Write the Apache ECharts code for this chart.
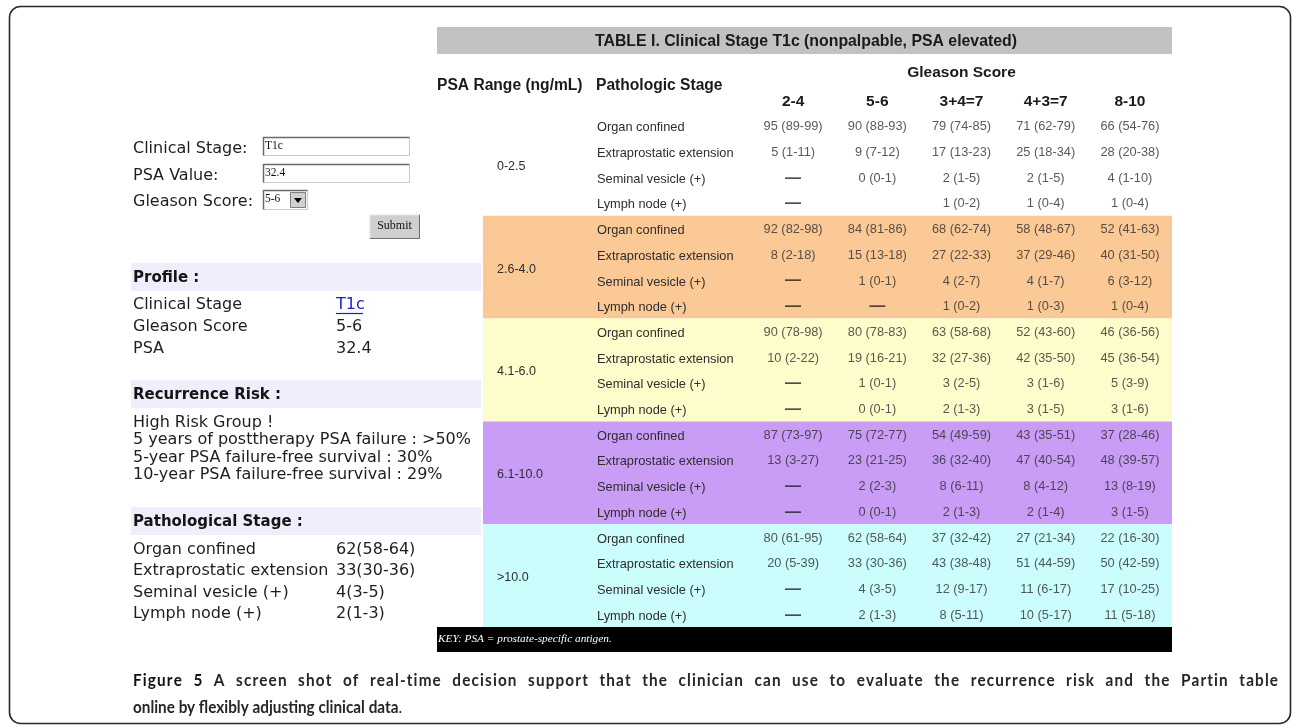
<!DOCTYPE html>
<html><head><meta charset="utf-8">
<script src="https://cdn.jsdelivr.net/npm/echarts@6/dist/echarts.min.js"></script>
<style>html,body{margin:0;padding:0;background:#fff}#c{width:1295px;height:727px}</style>
</head><body><div id="c"></div>
<script>
// ---------------- data ----------------
const tableTitle = 'TABLE I. Clinical Stage T1c (nonpalpable, PSA elevated)';
const gleasonScores = ['2-4', '5-6', '3+4=7', '4+3=7', '8-10'];
const pathologicStages = ['Organ confined', 'Extraprostatic extension', 'Seminal vesicle (+)', 'Lymph node (+)'];
const psaRanges = ['0-2.5', '2.6-4.0', '4.1-6.0', '6.1-10.0', '>10.0'];
// rows = pathologic stage, columns = Gleason score
const psa0to25 = [
  ['95 (89-99)', '90 (88-93)', '79 (74-85)', '71 (62-79)', '66 (54-76)'],
  ['5 (1-11)', '9 (7-12)', '17 (13-23)', '25 (18-34)', '28 (20-38)'],
  ['—', '0 (0-1)', '2 (1-5)', '2 (1-5)', '4 (1-10)'],
  ['—', '', '1 (0-2)', '1 (0-4)', '1 (0-4)']
];
const psa26to40 = [
  ['92 (82-98)', '84 (81-86)', '68 (62-74)', '58 (48-67)', '52 (41-63)'],
  ['8 (2-18)', '15 (13-18)', '27 (22-33)', '37 (29-46)', '40 (31-50)'],
  ['—', '1 (0-1)', '4 (2-7)', '4 (1-7)', '6 (3-12)'],
  ['—', '—', '1 (0-2)', '1 (0-3)', '1 (0-4)']
];
const psa41to60 = [
  ['90 (78-98)', '80 (78-83)', '63 (58-68)', '52 (43-60)', '46 (36-56)'],
  ['10 (2-22)', '19 (16-21)', '32 (27-36)', '42 (35-50)', '45 (36-54)'],
  ['—', '1 (0-1)', '3 (2-5)', '3 (1-6)', '5 (3-9)'],
  ['—', '0 (0-1)', '2 (1-3)', '3 (1-5)', '3 (1-6)']
];
const psa61to100 = [
  ['87 (73-97)', '75 (72-77)', '54 (49-59)', '43 (35-51)', '37 (28-46)'],
  ['13 (3-27)', '23 (21-25)', '36 (32-40)', '47 (40-54)', '48 (39-57)'],
  ['—', '2 (2-3)', '8 (6-11)', '8 (4-12)', '13 (8-19)'],
  ['—', '0 (0-1)', '2 (1-3)', '2 (1-4)', '3 (1-5)']
];
const psaOver10 = [
  ['80 (61-95)', '62 (58-64)', '37 (32-42)', '27 (21-34)', '22 (16-30)'],
  ['20 (5-39)', '33 (30-36)', '43 (38-48)', '51 (44-59)', '50 (42-59)'],
  ['—', '4 (3-5)', '12 (9-17)', '11 (6-17)', '17 (10-25)'],
  ['—', '2 (1-3)', '8 (5-11)', '10 (5-17)', '11 (5-18)']
];
const tableKey = 'KEY: PSA = prostate-specific antigen.';

const formLabels = ['Clinical Stage:', 'PSA Value:', 'Gleason Score:'];
const formValues = ['T1c', '32.4', '5-6'];
const profileLabels = ['Clinical Stage', 'Gleason Score', 'PSA'];
const profileValues = ['T1c', '5-6', '32.4'];
const riskLines = ['High Risk Group !', '5 years of posttherapy PSA failure : >50%',
  '5-year PSA failure-free survival : 30%', '10-year PSA failure-free survival : 29%'];
const pathStageValues = ['62(58-64)', '33(30-36)', '4(3-5)', '2(1-3)'];
const captionTitle = 'Figure 5';
const captionLine1 = 'A screen shot of real-time decision support that the clinician can use to evaluate the recurrence risk and the Partin table';
const captionLine2 = 'online by flexibly adjusting clinical data';

// ---------------- build ----------------
const blocks = [psa0to25, psa26to40, psa41to60, psa61to100, psaOver10];
const blockColors = ['#ffffff', '#fbc996', '#fdfdcb', '#c99cf6', '#cbfdfd'];
const rowLabels = [];
psaRanges.forEach(() => pathologicStages.forEach(s => rowLabels.push(s)));
const cells = [];
blocks.forEach((b, bi) => b.forEach((row, si) => row.forEach((t, ci) => {
  if (t) cells.push([ci, bi * 4 + si, t]);
})));

const SANS = "'Liberation Sans', Arial, sans-serif";
const VERD = "'DejaVu Sans', Verdana, sans-serif";
const SERIF = "'Liberation Serif', 'Times New Roman', serif";
const CAP = "Lato, 'Open Sans', sans-serif";

function T(text, x, y, o) {
  o = o || {};
  const el = {
    type: 'text', silent: true, z: o.z || 10,
    style: {
      text: text, x: x, y: y,
      font: o.font || ('16px ' + VERD),
      fill: o.fill || '#1e1e1e',
      align: o.align || 'left', textAlign: o.align || 'left',
      verticalAlign: 'middle', textVerticalAlign: 'middle',
      rich: o.rich
    }
  };
  if (o.sx) { el.scaleX = o.sx; el.originX = x; el.originY = y; }
  return el;
}
function R(x, y, w, h, fill, stroke, lw, z) {
  return { type: 'rect', silent: true, z: z || 5, shape: { x: x, y: y, width: w, height: h },
    style: { fill: fill || 'none', stroke: stroke || null, lineWidth: lw || 1 } };
}
function L(pts, stroke, lw, z) {
  return { type: 'polyline', silent: true, z: z || 6, shape: { points: pts },
    style: { fill: null, stroke: stroke, lineWidth: lw || 1 } };
}
const mctx = document.createElement('canvas').getContext('2d');
function measure(text, font) { mctx.font = font; return mctx.measureText(text).width; }

const g = [];
// outer frame
g.push({ type: 'rect', silent: true, z: 1, shape: { x: 9.5, y: 6.5, width: 1281, height: 717, r: 11 },
  style: { fill: 'none', stroke: '#2a2a2a', lineWidth: 1.6 } });

// table title bar
g.push(R(437, 27, 735, 27, '#c2c2c2'));
{
  const f = 'bold 17px ' + SANS;
  const w = measure(tableTitle, f);
  g.push(T(tableTitle, 806, 41, { font: f, align: 'center', fill: '#1a1a1a', sx: 422 / w }));
}
// headers
g.push(T('PSA Range (ng/mL)', 437, 85.5, { font: 'bold 15.6px ' + SANS, fill: '#1a1a1a' }));
g.push(T('Pathologic Stage', 596, 85.5, { font: 'bold 15.6px ' + SANS, fill: '#1a1a1a' }));
// key bar
g.push(R(437, 627, 735, 25, '#000000'));
g.push(T(tableKey, 438, 639.5, { font: 'italic 11.3px ' + SERIF, fill: '#ffffff' }));

// left form
const formY = [147, 174, 200];
formLabels.forEach((l, i) => g.push(T(l, 133, formY[i] + 1.5, { font: '16px ' + VERD })));
[0, 1].forEach(i => {
  const y = formY[i] - 10;
  g.push(R(263.5, y + 0.5, 146, 18, '#ffffff', '#c8c8c8', 1));
  g.push(L([[263.5, y + 18.5], [263.5, y + 0.5], [409.5, y + 0.5]], '#6a6a6a', 1.5));
  g.push(T(formValues[i], 265, y + 9, { font: '11.5px ' + SERIF, fill: '#111' }));
});
{
  const y = formY[2] - 10;
  g.push(R(263.5, y + 0.5, 44, 19, '#ffffff', '#c8c8c8', 1));
  g.push(L([[263.5, y + 19.5], [263.5, y + 0.5], [307.5, y + 0.5]], '#6a6a6a', 1.5));
  g.push(T(formValues[2], 265, y + 9, { font: '11.5px ' + SERIF, fill: '#111' }));
  g.push(R(290.5, y + 2.5, 15, 15, '#d0d0d0', '#808080', 1));
  g.push({ type: 'polygon', silent: true, z: 7, shape: { points: [[294, y + 8], [302, y + 8], [298, y + 13]] }, style: { fill: '#000' } });
}
g.push(R(369.5, 214.5, 50, 24, '#cfcfcf', '#6e6e6e', 1));
g.push(L([[369.5, 238.5], [369.5, 214.5], [419.5, 214.5]], '#f4f4f4', 1.5));
g.push(T('Submit', 394.5, 225.5, { font: '12px ' + SERIF, align: 'center', fill: '#111' }));

// section bars
function section(title, y0) {
  g.push(R(131, y0, 350, 28, '#eeeefc'));
  g.push(T(title, 133, y0 + 15.5, { font: 'bold 15px ' + VERD, fill: '#151515' }));
}
section('Profile :', 263);
const profY = [303, 325, 347];
profileLabels.forEach((l, i) => {
  g.push(T(l, 133, profY[i] + 1.5, { font: '16px ' + VERD }));
  g.push(T(profileValues[i], 336, profY[i] + 1.5, { font: '16px ' + VERD, fill: i === 0 ? '#1a1ad0' : '#1e1e1e' }));
});
g.push(L([[336, 313.5], [363, 313.5]], '#1a1ad0', 1.2));

section('Recurrence Risk :', 380);
const riskY = [421, 438.5, 456, 473.5];
riskLines.forEach((l, i) => g.push(T(l, 133, riskY[i] + 1.5, { font: '16px ' + VERD })));

section('Pathological Stage :', 507);
const psY = [548, 569.5, 591, 612.5];
pathologicStages.forEach((l, i) => {
  g.push(T(l, 133, psY[i] + 1.5, { font: '16px ' + VERD }));
  g.push(T(pathStageValues[i], 336, psY[i] + 1.5, { font: '16px ' + VERD }));
});

// caption: line 1 justified between 133 and 1278 (spacing spread over characters and words)
{
  const SX = 0.9;
  const fB = 'bold 17px ' + CAP;
  const full = captionTitle + ' ' + captionLine1;
  const chars = Array.from(full);
  const titleLen = captionTitle.length;
  const cw = chars.map(c => measure(c, fB) * SX);
  const total = cw.reduce((a, b) => a + b, 0);
  const nSpaces = chars.filter(c => c === ' ').length;
  const nGaps = chars.length - 1;
  const extra = 1278 - 133 - total;
  const perGap = extra * 0.55 / nGaps;
  const perSpace = extra * 0.45 / nSpaces;
  let x = 133;
  chars.forEach((c, i) => {
    if (c !== ' ') g.push(T(c, x, 681, { font: fB, fill: i < titleLen ? '#111' : '#262626', sx: SX }));
    x += cw[i] + perGap + (c === ' ' ? perSpace : 0);
  });
  g.push(T(captionLine2 + '{r|.}', 133, 708, {
    font: fB, fill: '#262626', sx: SX,
    rich: { r: { font: '17px ' + CAP, fill: '#262626' } }
  }));
}

const hiddenAxis = { axisLine: { show: false }, axisTick: { show: false }, splitLine: { show: false } };
const chart = echarts.init(document.getElementById('c'), null, { renderer: 'canvas' });
chart.setOption({
  animation: false,
  backgroundColor: '#ffffff',
  grid: [
    { left: 483, top: 113, width: 689, height: 514 },   // block backgrounds
    { left: 751, top: 113, width: 421, height: 514 },   // cell values
    { left: 751, top: 115, width: 421, height: 514 }    // row labels
  ],
  xAxis: [
    { gridIndex: 0, type: 'value', min: 0, max: 1, show: false },
    Object.assign({
      gridIndex: 1, type: 'category', data: gleasonScores, position: 'top',
      axisLabel: { margin: 3, fontFamily: SANS, fontSize: 15.5, fontWeight: 'bold', color: '#1a1a1a' },
      name: 'Gleason Score', nameLocation: 'middle', nameGap: 32,
      nameTextStyle: { fontFamily: SANS, fontSize: 15.5, fontWeight: 'bold', color: '#1a1a1a' }
    }, hiddenAxis),
    { gridIndex: 2, type: 'category', data: gleasonScores, show: false }
  ],
  yAxis: [
    { gridIndex: 0, type: 'category', data: psaRanges, inverse: true, show: false },
    { gridIndex: 1, type: 'category', data: rowLabels, inverse: true, show: false },
    Object.assign({
      gridIndex: 2, type: 'category', data: rowLabels, inverse: true, position: 'left',
      axisLabel: { interval: 0, align: 'left', margin: 154, fontFamily: SANS, fontSize: 12.8, color: '#2e2e2e' }
    }, hiddenAxis),
    Object.assign({
      gridIndex: 2, type: 'category', data: psaRanges, inverse: true, position: 'left', offset: 0,
      axisLabel: { interval: 0, align: 'left', margin: 254, fontFamily: SANS, fontSize: 12.5, color: '#2e2e2e' }
    }, hiddenAxis)
  ],
  series: [
    {
      type: 'bar', xAxisIndex: 0, yAxisIndex: 0, barWidth: '100%', silent: true, z: 0,
      data: psaRanges.map((r, i) => ({ value: 1, itemStyle: { color: blockColors[i] } }))
    },
    {
      type: 'scatter', xAxisIndex: 1, yAxisIndex: 1, symbolSize: 0, silent: true, z: 5,
      data: cells,
      label: {
        show: true, position: 'inside', fontFamily: SANS, fontSize: 12.8, color: '#2e2e2e', padding: [2, 0, 0, 0],
        formatter: p => p.value[2] === '—' ? '{d|—}' : p.value[2],
        rich: { d: { fontSize: 16, fontWeight: 'bold', color: '#222', fontFamily: SANS } }
      }
    }
  ],
  graphic: { elements: g }
});
</script>
</body></html>
